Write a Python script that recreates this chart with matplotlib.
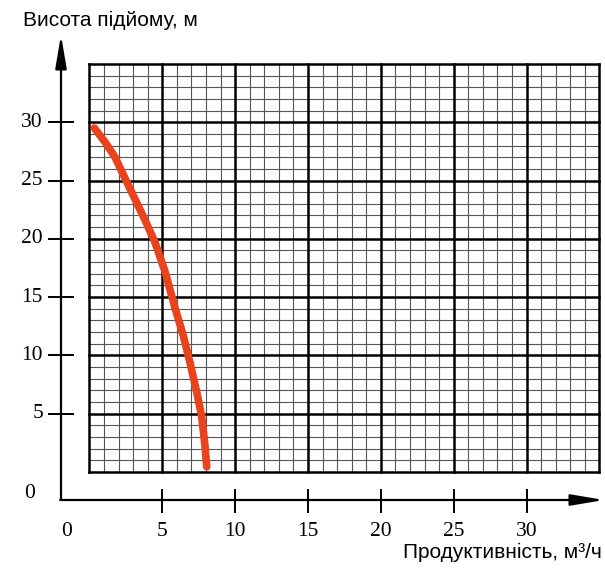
import numpy as np
import matplotlib
matplotlib.use('Agg')
import matplotlib.pyplot as plt

# pump curve: flow (m3/h) vs head (m)
flow = [0.34, 1.07, 1.76, 2.44, 3.13, 3.82, 4.5, 5.19, 5.87, 6.44, 6.9, 7.36, 7.70, 7.93, 8.05]
head = [29.5, 28.3, 27.0, 25.2, 23.4, 21.6, 19.7, 17.2, 14.1, 11.7, 9.4, 6.9, 4.8, 2.3, 0.45]

x_ticks = [5, 10, 15, 20, 25, 30]
y_ticks = [5, 10, 15, 20, 25, 30]
grid_max = 35

y_title = "Висота підйому, м"
x_title = "Продуктивність, м³/ч"

# pixel mapping of the reference (605x569)
x0_px, sx = 89.4, 14.57
y0_px, sy = 472.0, 11.66
W, H = 605, 569

fig = plt.figure(figsize=(W / 100, H / 100), dpi=100)
ax = fig.add_axes([0, 0, 1, 1])
ax.set_xlim(-x0_px / sx, (W - x0_px) / sx)
ax.set_ylim(-(H - y0_px) / sy, y0_px / sy)
ax.axis('off')


def px_x(p):
    return (p - x0_px) / sx


def px_y(p):
    return (y0_px - p) / sy


# graph paper
minor = np.arange(0, grid_max + 1)
for v in minor:
    major = v % 5 == 0
    lw = 1.8 if major else 0.8
    col = 'black' if major else '#555555'
    ax.plot([v, v], [0, grid_max], color=col, lw=lw, zorder=2 if major else 1)
    ax.plot([0, grid_max], [v, v], color=col, lw=lw, zorder=2 if major else 1)

# curve
ax.plot(flow, head, color='#e8431c', lw=5.5, solid_capstyle='round',
        solid_joinstyle='round', zorder=3)

# axes with arrows
ax_x = px_x(61)
ax_y = px_y(500)
arrow = dict(arrowstyle='-|>,head_length=1.0,head_width=0.17',
             mutation_scale=20, lw=1.6, color='black', shrinkA=0, shrinkB=0)
ax.annotate('', xy=(ax_x, px_y(35)), xytext=(ax_x, ax_y), arrowprops=arrow)
ax.annotate('', xy=(px_x(604), ax_y), xytext=(ax_x - 0.06, ax_y), arrowprops=arrow)

serif = dict(family='Liberation Serif', fontsize=15.5)
sans = dict(family='Liberation Sans', fontsize=15)

for t in y_ticks:
    ax.plot([px_x(49), px_x(73)], [t, t], color='black', lw=1.4)
    ax.text(px_x(43), t, str(t), ha='right', va='center', **serif)
for t in x_ticks:
    ax.plot([t, t], [px_y(490), px_y(512)], color='black', lw=1.4)
    ax.text(t, px_y(531), str(t), ha='center', va='center', **serif)

ax.text(px_x(30), px_y(493), '0', ha='center', va='center', **serif)
ax.text(px_x(67), px_y(531), '0', ha='center', va='center', **serif)

ax.text(px_x(23), px_y(26), y_title, ha='left', va='baseline', **sans)
ax.text(px_x(602), px_y(558), x_title, ha='right', va='baseline', **sans)

fig.savefig('out.png', dpi=100, facecolor='white')
